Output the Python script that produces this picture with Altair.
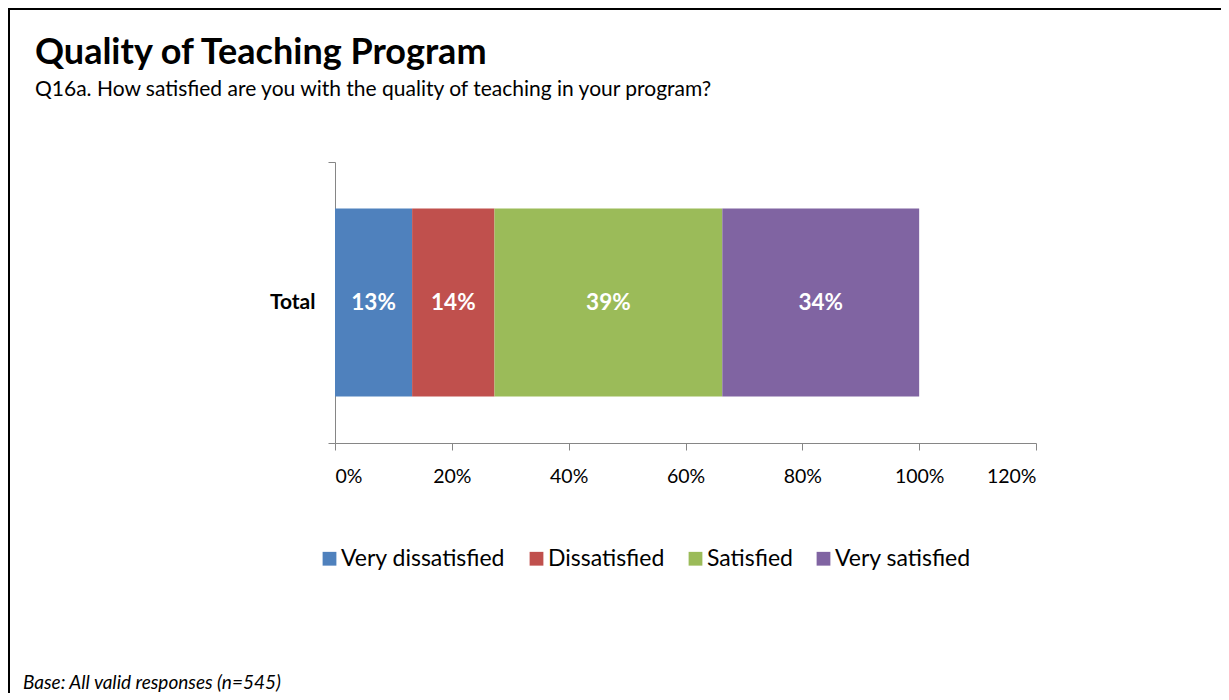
import altair as alt
import pandas as pd

# ---- data ----
categories = ["Very dissatisfied", "Dissatisfied", "Satisfied", "Very satisfied"]
values = [0.132, 0.141, 0.390, 0.337]
labels = ["13%", "14%", "39%", "34%"]
colors = ["#4F81BD", "#C0504D", "#9BBB59", "#8064A2"]
row_label = ["Total"]
x_ticks = [0, 0.2, 0.4, 0.6, 0.8, 1.0, 1.2]

title_text = "Quality of Teaching Program"
subtitle_text = "Q16a. How satisfied are you  with the quality of teaching in your program?"
footer_text = "Base:  All valid responses (n=545)"

FONT = "Lato"
AXIS_GREY = "#868686"

df = pd.DataFrame({
    "row": row_label * len(categories),
    "cat": categories,
    "idx": list(range(len(categories))),
    "value": values,
    "label": labels,
})

W, H = 701, 281

base = alt.Chart(df).transform_stack(
    stack="value", groupby=["row"], as_=["v0", "v1"],
    sort=[alt.SortField("idx", order="ascending")],
).transform_calculate(mid="(datum.v0 + datum.v1) / 2")

x_scale = alt.Scale(domain=[0, 1.2], nice=False)
x_axis = alt.Axis(
    values=x_ticks, format=".0%", grid=False, tickSize=7,
    tickColor=AXIS_GREY, domainColor=AXIS_GREY,
    labelFont=FONT, labelFontSize=19.5, labelColor="#000000",
    labelPadding=17,
)
y_scale = alt.Scale(paddingInner=0, paddingOuter=0)
y_axis = alt.Axis(
    tickBand="extent", tickSize=7, tickColor=AXIS_GREY, domainColor=AXIS_GREY,
    labelFont=FONT, labelFontSize=21, labelFontWeight="bold", labelColor="#000000",
    labelPadding=13, domainWidth=1, tickWidth=1, grid=False,
)

bars = base.mark_bar(size=188).encode(
    x=alt.X("v0:Q", title=None, scale=x_scale, axis=x_axis),
    x2="v1:Q",
    y=alt.Y("row:N", title=None, scale=y_scale, axis=y_axis),
    color=alt.Color(
        "cat:N",
        scale=alt.Scale(domain=categories, range=colors),
        sort=categories,
        legend=alt.Legend(
            title=None, orient="none", direction="horizontal",
            legendX=-17, legendY=385,
            symbolType="square", symbolSize=190, symbolStrokeWidth=0,
            labelFont=FONT, labelFontSize=23, labelColor="#000000",
            labelOffset=0, columnPadding=19, labelLimit=300,
        ),
    ),
)

texts = base.mark_text(
    color="white", font=FONT, fontSize=22.5, fontWeight="bold", baseline="middle"
).encode(
    x=alt.X("mid:Q", title=None, scale=x_scale, axis=x_axis),
    y=alt.Y("row:N", title=None, scale=y_scale, axis=y_axis),
    text="label:N",
)

ann = pd.DataFrame({"t": [title_text]})
title = alt.Chart(ann).mark_text(
    font=FONT, fontSize=36, fontWeight="bold", align="left", baseline="alphabetic", color="#000000"
).encode(x=alt.value(-300), y=alt.value(-98), text="t:N")

ann2 = pd.DataFrame({"t": [subtitle_text]})
subtitle = alt.Chart(ann2).mark_text(
    font=FONT, fontSize=21, align="left", baseline="alphabetic", color="#000000"
).encode(x=alt.value(-300), y=alt.value(-66), text="t:N")

ann3 = pd.DataFrame({"t": [footer_text]})
footer = alt.Chart(ann3).mark_text(
    font=FONT, fontSize=19, fontStyle="italic", align="left", baseline="alphabetic", color="#000000"
).encode(x=alt.value(-312), y=alt.value(527), text="t:N")

frame = alt.Chart(ann).mark_rect(fill=None, stroke="#000000", strokeWidth=2).encode(
    x=alt.value(-326), y=alt.value(-153), x2=alt.value(1200), y2=alt.value(800)
)

chart = alt.layer(frame, bars, texts, title, subtitle, footer).properties(
    width=W, height=H,
    autosize=alt.AutoSizeParams(type="none"),
    padding={"left": 327, "top": 154, "right": 185, "bottom": 250},
).configure(background="white").configure_view(strokeWidth=0, stroke="transparent").configure_axis(grid=False)

chart.save("out.html", embed_options={"renderer": "svg", "actions": False})
